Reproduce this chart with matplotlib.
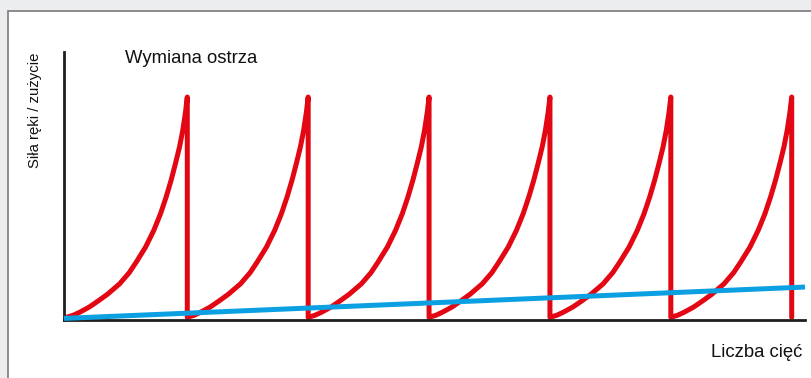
import matplotlib.pyplot as plt
from matplotlib.patches import Rectangle

# one tooth of the red curve (fraction of width / height)
tooth_t = [0.0, 0.055, 0.110, 0.19, 0.262, 0.34, 0.44, 0.52, 0.577, 0.655,
           0.723, 0.779, 0.825, 0.866, 0.902, 0.936, 0.963, 0.985, 1.0]
tooth_v = [0.0, 0.009, 0.023, 0.047, 0.074, 0.105, 0.152, 0.203, 0.250, 0.319,
           0.395, 0.471, 0.546, 0.622, 0.698, 0.774, 0.850, 0.93, 1.0]
tooth_ends = [1, 2, 3, 4, 5, 6]
base_level = 1.0
peak_level = 83.2

# blue wear line
wear_x = [-0.02, 6.11]
wear_y = [0.6, 12.3]

title_text = "Wymiana ostrza"
x_label = "Liczba cięć"
y_label = "Siła ręki / zużycie"

RED = "#e30613"
BLUE = "#0aa0e2"

fig = plt.figure(figsize=(8.12, 3.78), dpi=100)
fig.patch.set_facecolor("#ecedef")
W, H = 812, 378

# white panel with grey frame, running off the right and bottom edges
panel = Rectangle((8 / W, -0.1), 1.2, 1 - 11 / H + 0.1, transform=fig.transFigure,
                  facecolor="white", edgecolor="#7a7a7a", linewidth=1.2, zorder=-5)
fig.patches.append(panel)

ax = fig.add_axes([64 / W, 1 - 320 / H, (805 - 64) / W, (320 - 52) / H])
ax.set_facecolor("none")
ax.set_zorder(2)

# build the sawtooth from the tooth profile
xs, ys = [], []
for end in tooth_ends:
    start = end - 1
    for t, v in zip(tooth_t, tooth_v):
        xs.append(start + t * (end - start))
        ys.append(base_level + v * (peak_level - base_level))
    xs.append(end)
    ys.append(base_level)

ax.plot(xs, ys, color=RED, lw=3.6, solid_capstyle="round",
        solid_joinstyle="round", zorder=2, clip_on=False)
ax.plot(wear_x, wear_y, color=BLUE, lw=3.6, solid_capstyle="butt",
        zorder=3, clip_on=False)

ax.set_xlim(-0.02, 6.11)
ax.set_ylim(0, 100)
ax.set_xticks([])
ax.set_yticks([])
for side in ["top", "right"]:
    ax.spines[side].set_visible(False)
for side in ["left", "bottom"]:
    ax.spines[side].set_linewidth(2.0)
    ax.spines[side].set_color("#1e1e1e")
    ax.spines[side].set_capstyle("projecting")

font = "Liberation Sans"
fig.text(125 / W, 1 - 63 / H, title_text, fontsize=13.3, family=font,
         ha="left", va="baseline", color="#111111")
fig.text(802 / W, 1 - 357 / H, x_label, fontsize=13.3, family=font,
         ha="right", va="baseline", color="#111111")
fig.text(35 / W, 1 - 53 / H, y_label, fontsize=10.7, family=font,
         rotation=90, ha="center", va="top", color="#111111")

fig.savefig("out.png", dpi=100, facecolor=fig.get_facecolor())
